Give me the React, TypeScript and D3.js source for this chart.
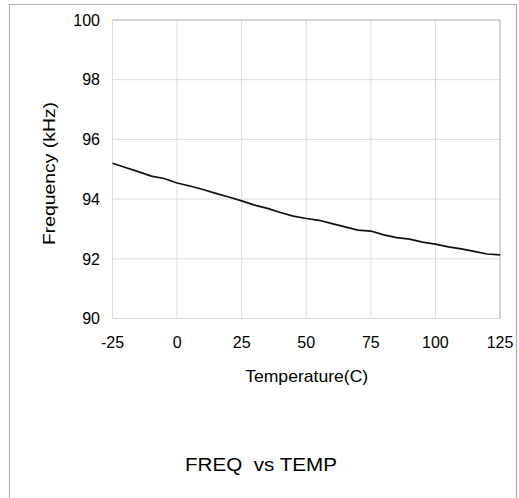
import React from "react";
import * as d3 from "d3";

const temps = [-25, -20, -15, -10, -5, 0, 5, 10, 15, 20, 25, 30, 35, 40, 45, 50, 55, 60, 65, 70, 75, 80, 85, 90, 95, 100, 105, 110, 115, 120, 125];
const freqs = [95.2, 95.06, 94.92, 94.77, 94.69, 94.54, 94.44, 94.32, 94.19, 94.07, 93.94, 93.8, 93.69, 93.55, 93.43, 93.35, 93.29, 93.18, 93.07, 92.96, 92.93, 92.8, 92.71, 92.66, 92.56, 92.49, 92.4, 92.33, 92.25, 92.16, 92.13];
const xTicks = [-25, 0, 25, 50, 75, 100, 125];
const yTicks = [90, 92, 94, 96, 98, 100];
const title = "FREQ  vs TEMP";
const xLabel = "Temperature(C)";
const yLabel = "Frequency (kHz)";

const W = 519;
const H = 498;
const left = 112.5;
const right = 500;
const top = 20;
const bottom = 318.5;
const font = "'Liberation Sans', Arial, sans-serif";

export default function App() {
  const x = d3.scaleLinear().domain([-25, 125]).range([left, right]);
  const y = d3.scaleLinear().domain([90, 100]).range([bottom, top]);
  const data = temps.map((t, i) => [t, freqs[i]] as [number, number]);
  const line = d3
    .line<[number, number]>()
    .x((d) => x(d[0]))
    .y((d) => y(d[1]));

  return (
    <svg
      width={W}
      height={H}
      style={{ position: "absolute", left: 0, top: 0, background: "#fff" }}
    >
      <rect x={0} y={0} width={W} height={H} fill="#fff" />
      <path
        d={`M9.5,${H} V4.5 H516.5 V${H}`}
        fill="none"
        stroke="#b0b0b0"
        strokeWidth={1.2}
      />
      {xTicks.map((t) => (
        <line
          key={"gx" + t}
          x1={x(t)}
          x2={x(t)}
          y1={top}
          y2={bottom}
          stroke="#dcdcdc"
          strokeWidth={1}
        />
      ))}
      {yTicks.map((t) => (
        <line
          key={"gy" + t}
          x1={left}
          x2={right}
          y1={y(t)}
          y2={y(t)}
          stroke="#dcdcdc"
          strokeWidth={1}
        />
      ))}
      <line x1={left} x2={right} y1={top} y2={top} stroke="#bcbcbc" strokeWidth={1} />
      <line x1={right} x2={right} y1={top} y2={bottom} stroke="#bcbcbc" strokeWidth={1} />
      <path d={line(data) || ""} fill="none" stroke="#111" strokeWidth={1.7} />
      {yTicks.map((t) => (
        <text
          key={"ly" + t}
          x={100}
          y={y(t) + 5.7}
          textAnchor="end"
          fontFamily={font}
          fontSize={16}
          fill="#000"
        >
          {t}
        </text>
      ))}
      {xTicks.map((t) => (
        <text
          key={"lx" + t}
          x={x(t)}
          y={348}
          textAnchor="middle"
          fontFamily={font}
          fontSize={16}
          fill="#000"
        >
          {t}
        </text>
      ))}
      <text
        x={306.7}
        y={382}
        textAnchor="middle"
        fontFamily={font}
        fontSize={17}
        fill="#000"
        textLength={123}
        lengthAdjust="spacingAndGlyphs"
      >
        {xLabel}
      </text>
      <text
        transform={`translate(54.5,173.5) rotate(-90)`}
        textAnchor="middle"
        fontFamily={font}
        fontSize={17}
        fill="#000"
        textLength={143}
        lengthAdjust="spacingAndGlyphs"
      >
        {yLabel}
      </text>
      <text
        x={261}
        y={470.5}
        textAnchor="middle"
        fontFamily={font}
        fontSize={19}
        fill="#000"
        textLength={152}
        lengthAdjust="spacingAndGlyphs"
        style={{ whiteSpace: "pre" }}
      >
        {title}
      </text>
    </svg>
  );
}
